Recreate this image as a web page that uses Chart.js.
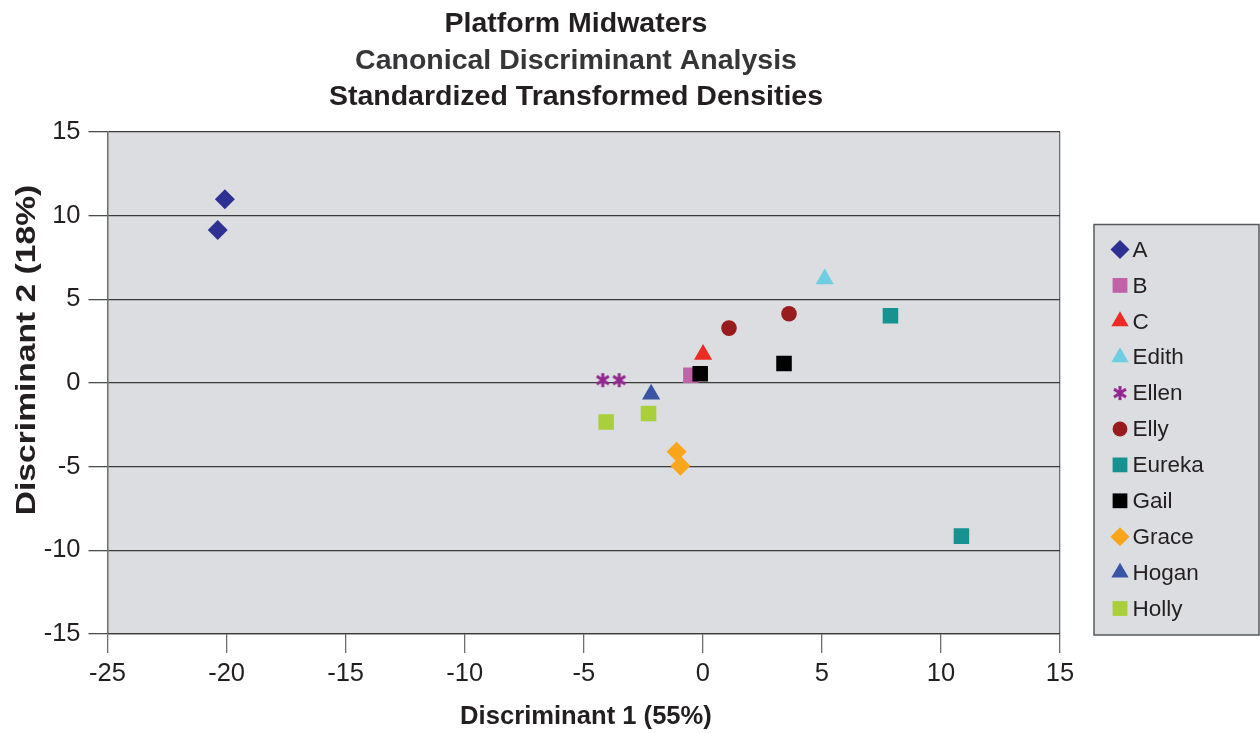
<!DOCTYPE html>
<html>
<head>
<meta charset="utf-8">
<script src="https://cdn.jsdelivr.net/npm/chart.js@4/dist/chart.umd.min.js"></script>
<style>
  html, body { margin: 0; padding: 0; background: #ffffff; }
  #wrap { width: 1260px; height: 733px; position: relative; }
</style>
</head>
<body>
<div id="wrap"><canvas id="chart"></canvas></div>
<script>
// Chart text
const titleLines = ['Platform Midwaters', 'Canonical Discriminant Analysis', 'Standardized Transformed Densities'];
const xAxisTitle = 'Discriminant 1 (55%)';
const yAxisTitle = 'Discriminant 2 (18%)';

// Axis ticks
const xTicks = [-25, -20, -15, -10, -5, 0, 5, 10, 15];
const yTicks = [-15, -10, -5, 0, 5, 10, 15];

// Group names, in legend order
const groups = ['A', 'B', 'C', 'Edith', 'Ellen', 'Elly', 'Eureka', 'Gail', 'Grace', 'Hogan', 'Holly'];

// Canonical scores per group: [discriminant 1, discriminant 2]
const ptsA      = [[-20.07, 10.98], [-20.37, 9.14]];
const ptsB      = [[-0.50, 0.46]];
const ptsC      = [[0.01, 1.71]];
const ptsEdith  = [[5.12, 6.21]];
const ptsEllen  = [[-4.20, 0.17], [-3.51, 0.17]];
const ptsElly   = [[1.10, 3.28], [3.62, 4.14]];
const ptsEureka = [[7.88, 4.02], [10.86, -9.15]];
const ptsGail   = [[-0.11, 0.55], [3.41, 1.17]];
const ptsGrace  = [[-1.10, -4.11], [-0.94, -4.94]];
const ptsHogan  = [[-2.17, -0.67]];
const ptsHolly  = [[-4.06, -2.33], [-2.28, -1.82]];

const groupPoints = [ptsA, ptsB, ptsC, ptsEdith, ptsEllen, ptsElly, ptsEureka, ptsGail, ptsGrace, ptsHogan, ptsHolly];

// Marker styling
const groupColors = ['#2e3192', '#c162a9', '#ed2b25', '#6dcde1', '#92278f', '#981b1e', '#179290', '#000000', '#f9a61c', '#3a54a5', '#a9cf3a'];

// Asterisk marker (vertical bar crossed by an X)
function makeAsterisk(color) {
  const c = document.createElement('canvas');
  c.width = 18; c.height = 18;
  const g = c.getContext('2d');
  g.strokeStyle = color;
  g.lineWidth = 3;
  g.lineCap = 'butt';
  g.beginPath();
  g.moveTo(9, 2); g.lineTo(9, 16);
  g.moveTo(3, 5); g.lineTo(15, 13);
  g.moveTo(3, 13); g.lineTo(15, 5);
  g.stroke();
  return c;
}
const asterisk = makeAsterisk('#92278f');

const groupStyles = ['rectRot', 'rect', 'triangle', 'triangle', asterisk, 'circle', 'rect', 'rect', 'rectRot', 'triangle', 'rect'];
const groupRadii  = [10, 11, 10.5, 10.5, 9, 7.8, 11, 11, 10, 10.5, 11];

const FONT = '"Liberation Sans", Arial, Helvetica, sans-serif';
const TEXT = '#231f20';

const datasets = groups.map((name, i) => ({
  label: name,
  data: groupPoints[i].map(p => ({ x: p[0], y: p[1] })),
  pointStyle: groupStyles[i],
  pointRadius: groupRadii[i],
  pointHoverRadius: groupRadii[i],
  pointBackgroundColor: groupColors[i],
  pointBorderColor: groupColors[i],
  pointBorderWidth: 0,
  showLine: false,
  order: groups.length - i
}));

// Grey plotting area behind the grid
const plotBackground = {
  id: 'plotBackground',
  beforeDraw(chart) {
    const { ctx, chartArea: a } = chart;
    ctx.save();
    ctx.fillStyle = '#dcdde0';
    ctx.fillRect(a.left, a.top, a.right - a.left, a.bottom - a.top);
    ctx.restore();
  }
};

// Titles, axis titles and the boxed legend
const annotations = {
  id: 'annotations',
  afterDraw(chart) {
    const { ctx, chartArea: a } = chart;
    ctx.save();

    // chart title
    const titleColors = [TEXT, '#363638', TEXT];
    ctx.font = 'bold 28.5px ' + FONT;
    ctx.textAlign = 'center';
    ctx.textBaseline = 'alphabetic';
    titleLines.forEach((line, i) => {
      ctx.fillStyle = titleColors[i];
      ctx.fillText(line, 576, 32 + i * 36.5);
    });

    // x axis title
    ctx.fillStyle = TEXT;
    ctx.font = 'bold 25.6px ' + FONT;
    ctx.fillText(xAxisTitle, 586, 724);

    // y axis title
    ctx.save();
    ctx.translate(35, 350);
    ctx.rotate(-Math.PI / 2);
    ctx.scale(1.2, 1);
    ctx.font = 'bold 28px ' + FONT;
    ctx.fillText(yAxisTitle, 0, 0);
    ctx.restore();

    // legend box
    const bx = a.right + 34, by = 224.5, bw = 165, bh = a.bottom + 1 - by;
    ctx.fillStyle = '#dcdde0';
    ctx.fillRect(bx, by, bw, bh);
    ctx.strokeStyle = '#58595b';
    ctx.lineWidth = 1.5;
    ctx.strokeRect(bx, by, bw, bh);

    ctx.font = '22.5px ' + FONT;
    ctx.textAlign = 'left';
    ctx.textBaseline = 'middle';
    chart.data.datasets.forEach((ds, i) => {
      const y = by + 25 + i * 35.9;
      const mx = bx + 26;
      ctx.fillStyle = groupColors[i];
      ctx.strokeStyle = groupColors[i];
      Chart.helpers.drawPoint(ctx, {
        pointStyle: groupStyles[i],
        radius: groupRadii[i] * 0.95,
        rotation: 0,
        borderWidth: 0
      }, mx, y);
      ctx.fillStyle = TEXT;
      ctx.fillText(ds.label, bx + 38.5, y + 1);
    });

    ctx.restore();
  }
};

new Chart(document.getElementById('chart'), {
  type: 'scatter',
  data: { datasets },
  plugins: [plotBackground, annotations],
  options: {
    responsive: true,
    maintainAspectRatio: false,
    animation: false,
    layout: { padding: { top: 132, right: 200, left: 0, bottom: 0 } },
    plugins: {
      legend: { display: false },
      title: { display: false },
      tooltip: { enabled: false }
    },
    scales: {
      x: {
        type: 'linear',
        min: xTicks[0],
        max: xTicks[xTicks.length - 1],
        afterBuildTicks(scale) { scale.ticks = xTicks.map(v => ({ value: v })); },
        afterFit(scale) { scale.height = 99; },
        ticks: {
          font: { family: FONT, size: 25.5 },
          color: TEXT,
          padding: 6,
          maxRotation: 0,
          autoSkip: false
        },
        grid: {
          drawOnChartArea: true,
          tickLength: 19,
          lineWidth: 1.3,
          tickColor: '#6d6e71',
          color: ctx => (ctx.index === 0 || ctx.index === xTicks.length - 1) ? '#6d6e71' : 'rgba(0,0,0,0)'
        },
        border: { display: true, color: '#3a3a3a', width: 1.3 }
      },
      y: {
        type: 'linear',
        min: yTicks[0],
        max: yTicks[yTicks.length - 1],
        afterBuildTicks(scale) { scale.ticks = yTicks.map(v => ({ value: v })); },
        afterFit(scale) { scale.width = 107.5; },
        ticks: {
          font: { family: FONT, size: 25.5 },
          color: TEXT,
          padding: 8
        },
        grid: {
          drawOnChartArea: true,
          tickLength: 19,
          lineWidth: 1.3,
          color: '#3a3a3a',
          tickColor: '#4d4d4f'
        },
        border: { display: true, color: '#6d6e71', width: 1.3 }
      }
    }
  }
});
</script>
</body>
</html>
